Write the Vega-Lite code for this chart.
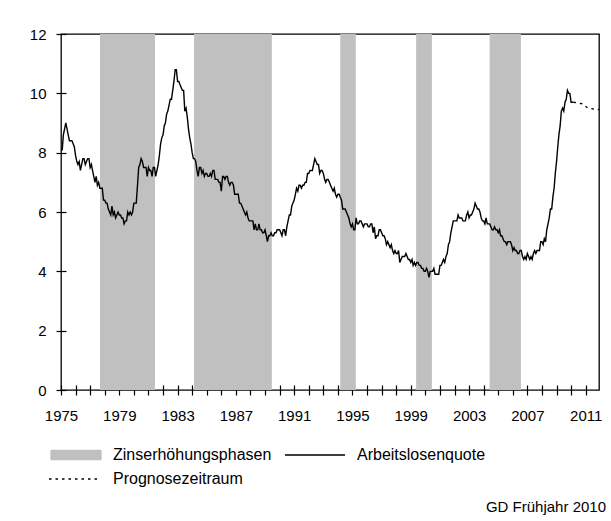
{
"$schema":"https://vega.github.io/schema/vega-lite/v6.json",
"width":538,"height":356,
"autosize":{"type":"none"},
"padding":{"left":61,"top":34,"right":12,"bottom":131},
"background":"white",
"config":{"font":"Liberation Sans","view":{"stroke":"black","strokeWidth":1.3},
 "axis":{"grid":false,"domain":false,"tickColor":"black","tickSize":10,"offset":-5,"tickWidth":1.2,"labelColor":"black","labelFontSize":15,"title":null}},
"title":{"text":"GD Frühjahr 2010","orient":"bottom","anchor":"end","frame":"group","baseline":"top","fontSize":15,"fontWeight":"normal","color":"black","offset":13,"dx":7},
"datasets":{
"phasen":[{"a":"1977-09-05","b":"1981-06-13"},{"a":"1984-02-17","b":"1989-06-20"},{"a":"1994-02-28","b":"1995-03-25"},{"a":"1999-05-15","b":"2000-06-13"},{"a":"2004-05-30","b":"2006-07-23"}],
"fc":[{"d":"2010-03","u":9.7},{"d":"2010-10","u":9.65},{"d":"2011-03","u":9.5},{"d":"2011-12","u":9.45}],
"hist":[
{"d":"1975-01","u":8.1},{"d":"1975-02","u":8.1},{"d":"1975-03","u":8.6},{"d":"1975-04","u":8.8},{"d":"1975-05","u":9.0},{"d":"1975-06","u":8.8},{"d":"1975-07","u":8.6},{"d":"1975-08","u":8.4},{"d":"1975-09","u":8.4},{"d":"1975-10","u":8.4},{"d":"1975-11","u":8.3},{"d":"1975-12","u":8.2},
{"d":"1976-01","u":7.9},{"d":"1976-02","u":7.7},{"d":"1976-03","u":7.6},{"d":"1976-04","u":7.7},{"d":"1976-05","u":7.4},{"d":"1976-06","u":7.6},{"d":"1976-07","u":7.8},{"d":"1976-08","u":7.8},{"d":"1976-09","u":7.6},{"d":"1976-10","u":7.7},{"d":"1976-11","u":7.8},{"d":"1976-12","u":7.8},
{"d":"1977-01","u":7.5},{"d":"1977-02","u":7.6},{"d":"1977-03","u":7.4},{"d":"1977-04","u":7.2},{"d":"1977-05","u":7.0},{"d":"1977-06","u":7.2},{"d":"1977-07","u":6.9},{"d":"1977-08","u":7.0},{"d":"1977-09","u":6.8},{"d":"1977-10","u":6.8},{"d":"1977-11","u":6.8},{"d":"1977-12","u":6.4},
{"d":"1978-01","u":6.4},{"d":"1978-02","u":6.3},{"d":"1978-03","u":6.3},{"d":"1978-04","u":6.1},{"d":"1978-05","u":6.0},{"d":"1978-06","u":5.9},{"d":"1978-07","u":6.2},{"d":"1978-08","u":5.9},{"d":"1978-09","u":6.0},{"d":"1978-10","u":5.8},{"d":"1978-11","u":5.9},{"d":"1978-12","u":6.0},
{"d":"1979-01","u":5.9},{"d":"1979-02","u":5.9},{"d":"1979-03","u":5.8},{"d":"1979-04","u":5.8},{"d":"1979-05","u":5.6},{"d":"1979-06","u":5.7},{"d":"1979-07","u":5.7},{"d":"1979-08","u":6.0},{"d":"1979-09","u":5.9},{"d":"1979-10","u":6.0},{"d":"1979-11","u":5.9},{"d":"1979-12","u":6.0},
{"d":"1980-01","u":6.3},{"d":"1980-02","u":6.3},{"d":"1980-03","u":6.3},{"d":"1980-04","u":6.9},{"d":"1980-05","u":7.5},{"d":"1980-06","u":7.6},{"d":"1980-07","u":7.8},{"d":"1980-08","u":7.7},{"d":"1980-09","u":7.5},{"d":"1980-10","u":7.5},{"d":"1980-11","u":7.5},{"d":"1980-12","u":7.2},
{"d":"1981-01","u":7.5},{"d":"1981-02","u":7.4},{"d":"1981-03","u":7.4},{"d":"1981-04","u":7.2},{"d":"1981-05","u":7.5},{"d":"1981-06","u":7.5},{"d":"1981-07","u":7.2},{"d":"1981-08","u":7.4},{"d":"1981-09","u":7.6},{"d":"1981-10","u":7.9},{"d":"1981-11","u":8.3},{"d":"1981-12","u":8.5},
{"d":"1982-01","u":8.6},{"d":"1982-02","u":8.9},{"d":"1982-03","u":9.0},{"d":"1982-04","u":9.3},{"d":"1982-05","u":9.4},{"d":"1982-06","u":9.6},{"d":"1982-07","u":9.8},{"d":"1982-08","u":9.8},{"d":"1982-09","u":10.1},{"d":"1982-10","u":10.4},{"d":"1982-11","u":10.8},{"d":"1982-12","u":10.8},
{"d":"1983-01","u":10.4},{"d":"1983-02","u":10.4},{"d":"1983-03","u":10.3},{"d":"1983-04","u":10.2},{"d":"1983-05","u":10.1},{"d":"1983-06","u":10.1},{"d":"1983-07","u":9.4},{"d":"1983-08","u":9.5},{"d":"1983-09","u":9.2},{"d":"1983-10","u":8.8},{"d":"1983-11","u":8.5},{"d":"1983-12","u":8.3},
{"d":"1984-01","u":8.0},{"d":"1984-02","u":7.8},{"d":"1984-03","u":7.8},{"d":"1984-04","u":7.7},{"d":"1984-05","u":7.4},{"d":"1984-06","u":7.2},{"d":"1984-07","u":7.5},{"d":"1984-08","u":7.5},{"d":"1984-09","u":7.3},{"d":"1984-10","u":7.4},{"d":"1984-11","u":7.2},{"d":"1984-12","u":7.3},
{"d":"1985-01","u":7.3},{"d":"1985-02","u":7.2},{"d":"1985-03","u":7.2},{"d":"1985-04","u":7.3},{"d":"1985-05","u":7.2},{"d":"1985-06","u":7.4},{"d":"1985-07","u":7.4},{"d":"1985-08","u":7.1},{"d":"1985-09","u":7.1},{"d":"1985-10","u":7.1},{"d":"1985-11","u":7.0},{"d":"1985-12","u":7.0},
{"d":"1986-01","u":6.7},{"d":"1986-02","u":7.2},{"d":"1986-03","u":7.2},{"d":"1986-04","u":7.1},{"d":"1986-05","u":7.2},{"d":"1986-06","u":7.2},{"d":"1986-07","u":7.0},{"d":"1986-08","u":6.9},{"d":"1986-09","u":7.0},{"d":"1986-10","u":7.0},{"d":"1986-11","u":6.9},{"d":"1986-12","u":6.6},
{"d":"1987-01","u":6.6},{"d":"1987-02","u":6.6},{"d":"1987-03","u":6.6},{"d":"1987-04","u":6.3},{"d":"1987-05","u":6.3},{"d":"1987-06","u":6.2},{"d":"1987-07","u":6.1},{"d":"1987-08","u":6.0},{"d":"1987-09","u":5.9},{"d":"1987-10","u":6.0},{"d":"1987-11","u":5.8},{"d":"1987-12","u":5.7},
{"d":"1988-01","u":5.7},{"d":"1988-02","u":5.7},{"d":"1988-03","u":5.7},{"d":"1988-04","u":5.4},{"d":"1988-05","u":5.6},{"d":"1988-06","u":5.4},{"d":"1988-07","u":5.4},{"d":"1988-08","u":5.6},{"d":"1988-09","u":5.4},{"d":"1988-10","u":5.4},{"d":"1988-11","u":5.3},{"d":"1988-12","u":5.3},
{"d":"1989-01","u":5.4},{"d":"1989-02","u":5.2},{"d":"1989-03","u":5.0},{"d":"1989-04","u":5.2},{"d":"1989-05","u":5.2},{"d":"1989-06","u":5.3},{"d":"1989-07","u":5.2},{"d":"1989-08","u":5.2},{"d":"1989-09","u":5.3},{"d":"1989-10","u":5.3},{"d":"1989-11","u":5.4},{"d":"1989-12","u":5.4},
{"d":"1990-01","u":5.4},{"d":"1990-02","u":5.3},{"d":"1990-03","u":5.2},{"d":"1990-04","u":5.4},{"d":"1990-05","u":5.4},{"d":"1990-06","u":5.2},{"d":"1990-07","u":5.5},{"d":"1990-08","u":5.7},{"d":"1990-09","u":5.9},{"d":"1990-10","u":5.9},{"d":"1990-11","u":6.2},{"d":"1990-12","u":6.3},
{"d":"1991-01","u":6.4},{"d":"1991-02","u":6.6},{"d":"1991-03","u":6.8},{"d":"1991-04","u":6.7},{"d":"1991-05","u":6.9},{"d":"1991-06","u":6.9},{"d":"1991-07","u":6.8},{"d":"1991-08","u":6.9},{"d":"1991-09","u":6.9},{"d":"1991-10","u":7.0},{"d":"1991-11","u":7.0},{"d":"1991-12","u":7.3},
{"d":"1992-01","u":7.3},{"d":"1992-02","u":7.4},{"d":"1992-03","u":7.4},{"d":"1992-04","u":7.4},{"d":"1992-05","u":7.6},{"d":"1992-06","u":7.8},{"d":"1992-07","u":7.7},{"d":"1992-08","u":7.6},{"d":"1992-09","u":7.6},{"d":"1992-10","u":7.3},{"d":"1992-11","u":7.4},{"d":"1992-12","u":7.4},
{"d":"1993-01","u":7.3},{"d":"1993-02","u":7.1},{"d":"1993-03","u":7.0},{"d":"1993-04","u":7.1},{"d":"1993-05","u":7.1},{"d":"1993-06","u":7.0},{"d":"1993-07","u":6.9},{"d":"1993-08","u":6.8},{"d":"1993-09","u":6.7},{"d":"1993-10","u":6.8},{"d":"1993-11","u":6.6},{"d":"1993-12","u":6.5},
{"d":"1994-01","u":6.6},{"d":"1994-02","u":6.6},{"d":"1994-03","u":6.5},{"d":"1994-04","u":6.4},{"d":"1994-05","u":6.1},{"d":"1994-06","u":6.1},{"d":"1994-07","u":6.1},{"d":"1994-08","u":6.0},{"d":"1994-09","u":5.9},{"d":"1994-10","u":5.8},{"d":"1994-11","u":5.6},{"d":"1994-12","u":5.5},
{"d":"1995-01","u":5.6},{"d":"1995-02","u":5.4},{"d":"1995-03","u":5.4},{"d":"1995-04","u":5.8},{"d":"1995-05","u":5.6},{"d":"1995-06","u":5.6},{"d":"1995-07","u":5.7},{"d":"1995-08","u":5.7},{"d":"1995-09","u":5.6},{"d":"1995-10","u":5.5},{"d":"1995-11","u":5.6},{"d":"1995-12","u":5.6},
{"d":"1996-01","u":5.6},{"d":"1996-02","u":5.5},{"d":"1996-03","u":5.5},{"d":"1996-04","u":5.6},{"d":"1996-05","u":5.6},{"d":"1996-06","u":5.3},{"d":"1996-07","u":5.5},{"d":"1996-08","u":5.1},{"d":"1996-09","u":5.2},{"d":"1996-10","u":5.2},{"d":"1996-11","u":5.4},{"d":"1996-12","u":5.4},
{"d":"1997-01","u":5.3},{"d":"1997-02","u":5.2},{"d":"1997-03","u":5.2},{"d":"1997-04","u":5.1},{"d":"1997-05","u":4.9},{"d":"1997-06","u":5.0},{"d":"1997-07","u":4.9},{"d":"1997-08","u":4.8},{"d":"1997-09","u":4.9},{"d":"1997-10","u":4.7},{"d":"1997-11","u":4.6},{"d":"1997-12","u":4.7},
{"d":"1998-01","u":4.6},{"d":"1998-02","u":4.6},{"d":"1998-03","u":4.7},{"d":"1998-04","u":4.3},{"d":"1998-05","u":4.4},{"d":"1998-06","u":4.5},{"d":"1998-07","u":4.5},{"d":"1998-08","u":4.5},{"d":"1998-09","u":4.6},{"d":"1998-10","u":4.5},{"d":"1998-11","u":4.4},{"d":"1998-12","u":4.4},
{"d":"1999-01","u":4.3},{"d":"1999-02","u":4.4},{"d":"1999-03","u":4.2},{"d":"1999-04","u":4.3},{"d":"1999-05","u":4.2},{"d":"1999-06","u":4.3},{"d":"1999-07","u":4.3},{"d":"1999-08","u":4.2},{"d":"1999-09","u":4.2},{"d":"1999-10","u":4.1},{"d":"1999-11","u":4.1},{"d":"1999-12","u":4.0},
{"d":"2000-01","u":4.0},{"d":"2000-02","u":4.1},{"d":"2000-03","u":4.0},{"d":"2000-04","u":3.8},{"d":"2000-05","u":4.0},{"d":"2000-06","u":4.0},{"d":"2000-07","u":4.0},{"d":"2000-08","u":4.1},{"d":"2000-09","u":3.9},{"d":"2000-10","u":3.9},{"d":"2000-11","u":3.9},{"d":"2000-12","u":3.9},
{"d":"2001-01","u":4.2},{"d":"2001-02","u":4.2},{"d":"2001-03","u":4.3},{"d":"2001-04","u":4.4},{"d":"2001-05","u":4.3},{"d":"2001-06","u":4.5},{"d":"2001-07","u":4.6},{"d":"2001-08","u":4.9},{"d":"2001-09","u":5.0},{"d":"2001-10","u":5.3},{"d":"2001-11","u":5.5},{"d":"2001-12","u":5.7},
{"d":"2002-01","u":5.7},{"d":"2002-02","u":5.7},{"d":"2002-03","u":5.7},{"d":"2002-04","u":5.9},{"d":"2002-05","u":5.8},{"d":"2002-06","u":5.8},{"d":"2002-07","u":5.8},{"d":"2002-08","u":5.7},{"d":"2002-09","u":5.7},{"d":"2002-10","u":5.7},{"d":"2002-11","u":5.9},{"d":"2002-12","u":6.0},
{"d":"2003-01","u":5.8},{"d":"2003-02","u":5.9},{"d":"2003-03","u":5.9},{"d":"2003-04","u":6.0},{"d":"2003-05","u":6.1},{"d":"2003-06","u":6.3},{"d":"2003-07","u":6.2},{"d":"2003-08","u":6.1},{"d":"2003-09","u":6.1},{"d":"2003-10","u":6.0},{"d":"2003-11","u":5.8},{"d":"2003-12","u":5.7},
{"d":"2004-01","u":5.7},{"d":"2004-02","u":5.6},{"d":"2004-03","u":5.8},{"d":"2004-04","u":5.6},{"d":"2004-05","u":5.6},{"d":"2004-06","u":5.6},{"d":"2004-07","u":5.5},{"d":"2004-08","u":5.4},{"d":"2004-09","u":5.4},{"d":"2004-10","u":5.5},{"d":"2004-11","u":5.4},{"d":"2004-12","u":5.4},
{"d":"2005-01","u":5.3},{"d":"2005-02","u":5.4},{"d":"2005-03","u":5.2},{"d":"2005-04","u":5.2},{"d":"2005-05","u":5.1},{"d":"2005-06","u":5.0},{"d":"2005-07","u":5.0},{"d":"2005-08","u":4.9},{"d":"2005-09","u":5.0},{"d":"2005-10","u":5.0},{"d":"2005-11","u":5.0},{"d":"2005-12","u":4.9},
{"d":"2006-01","u":4.7},{"d":"2006-02","u":4.8},{"d":"2006-03","u":4.7},{"d":"2006-04","u":4.7},{"d":"2006-05","u":4.6},{"d":"2006-06","u":4.6},{"d":"2006-07","u":4.7},{"d":"2006-08","u":4.7},{"d":"2006-09","u":4.5},{"d":"2006-10","u":4.4},{"d":"2006-11","u":4.5},{"d":"2006-12","u":4.4},
{"d":"2007-01","u":4.6},{"d":"2007-02","u":4.5},{"d":"2007-03","u":4.4},{"d":"2007-04","u":4.5},{"d":"2007-05","u":4.4},{"d":"2007-06","u":4.6},{"d":"2007-07","u":4.7},{"d":"2007-08","u":4.6},{"d":"2007-09","u":4.7},{"d":"2007-10","u":4.7},{"d":"2007-11","u":4.7},{"d":"2007-12","u":5.0},
{"d":"2008-01","u":5.0},{"d":"2008-02","u":4.9},{"d":"2008-03","u":5.1},{"d":"2008-04","u":5.0},{"d":"2008-05","u":5.4},{"d":"2008-06","u":5.6},{"d":"2008-07","u":5.8},{"d":"2008-08","u":6.1},{"d":"2008-09","u":6.1},{"d":"2008-10","u":6.5},{"d":"2008-11","u":6.8},{"d":"2008-12","u":7.3},
{"d":"2009-01","u":7.7},{"d":"2009-02","u":8.2},{"d":"2009-03","u":8.6},{"d":"2009-04","u":8.9},{"d":"2009-05","u":9.4},{"d":"2009-06","u":9.5},{"d":"2009-07","u":9.4},{"d":"2009-08","u":9.7},{"d":"2009-09","u":9.8},{"d":"2009-10","u":10.1},{"d":"2009-11","u":10.0},{"d":"2009-12","u":10.0},
{"d":"2010-01","u":9.7},{"d":"2010-02","u":9.7},{"d":"2010-03","u":9.7}
]},
"layer":[
{"data":{"name":"phasen"},"mark":{"type":"rect"},
 "encoding":{
  "x":{"field":"a","type":"temporal","scale":{"type":"utc","domain":[{"year":1975,"month":1,"date":1,"utc":true},{"year":2011,"month":12,"date":1,"utc":true}]},
   "axis":{"tickCount":{"interval":"year","step":1},"labelExpr":"utcyear(datum.value) % 4 == 3 ? utcFormat(datum.value, '%Y') : ''","labelPadding":13,"labelFlush":false,"labelOverlap":false,"labelBound":false}},
  "x2":{"field":"b"},
  "color":{"datum":"Zinserhöhungsphasen","type":"nominal","scale":{"domain":["Zinserhöhungsphasen","Arbeitslosenquote","Prognosezeitraum"],"range":["#c0c0c0","#000000","#000000"]},
   "legend":{"orient":"none","legendX":27,"legendY":413,"columns":2,"direction":"horizontal","title":null,"padding":0,"symbolSize":100,"labelFontSize":16,"labelColor":"black","labelOffset":9,"rowPadding":8,"columnPadding":10,"labelLimit":400,
    "encode":{"symbols":{"update":{
     "shape":{"signal":"datum.value === 'Zinserhöhungsphasen' ? 'M-9,-0.9H1V0.9H-9Z' : (datum.value === 'Prognosezeitraum' ? 'M-9.4,0H1' : 'M-11,0H1')"},
     "fill":{"signal":"datum.value === 'Zinserhöhungsphasen' ? '#c0c0c0' : 'transparent'"},
     "stroke":{"signal":"datum.value === 'Zinserhöhungsphasen' ? 'transparent' : '#000000'"},
     "strokeWidth":{"value":1.3},
     "strokeDash":{"signal":"datum.value === 'Prognosezeitraum' ? [2.5,4] : [1,0]"},
     "opacity":{"value":1}}}}}}}},
{"data":{"name":"hist"},"mark":{"type":"line","strokeWidth":1.4},
 "encoding":{
  "x":{"field":"d","type":"temporal"},
  "y":{"field":"u","type":"quantitative","scale":{"domain":[0,12]},"axis":{"values":[0,2,4,6,8,10,12],"labelPadding":10}},
  "color":{"datum":"Arbeitslosenquote","type":"nominal"}}},
{"data":{"name":"fc"},"mark":{"type":"line","strokeWidth":1.4,"strokeDash":[2.5,4]},
 "encoding":{
  "x":{"field":"d","type":"temporal"},
  "y":{"field":"u","type":"quantitative"},
  "color":{"datum":"Prognosezeitraum","type":"nominal"}}}
]
}
